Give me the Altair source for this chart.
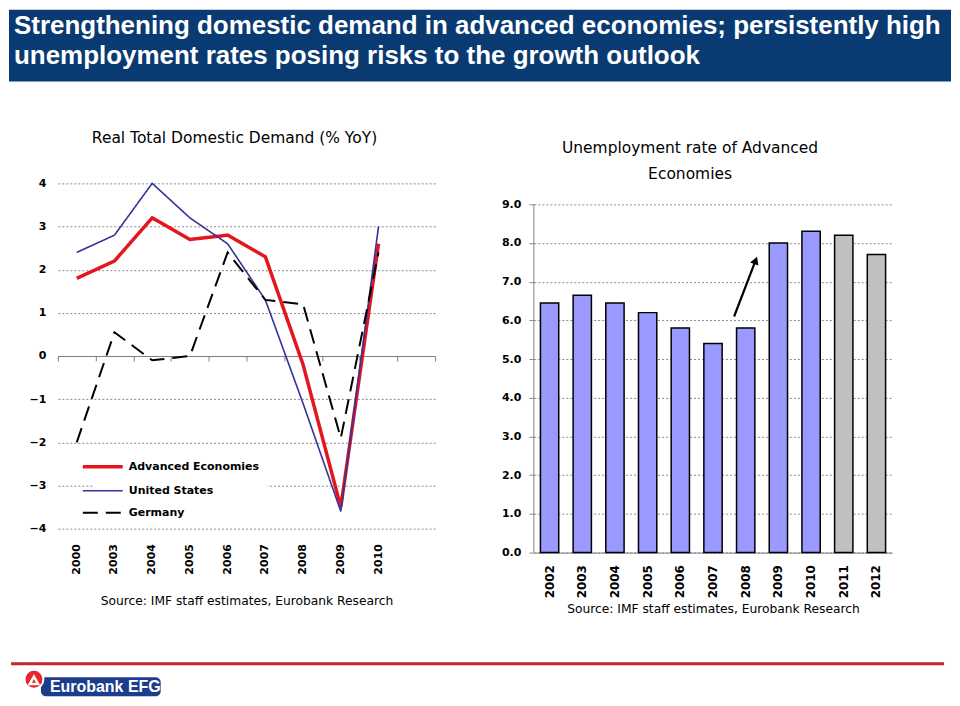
import altair as alt
import pandas as pd

FONT = "DejaVu Sans"
GRID = "#8a8a8a"
AXIS = "#7f7f7f"

# ---------------- text ----------------
banner_lines = [
    "Strengthening domestic demand in advanced economies;  persistently high",
    "unemployment rates posing risks to the growth outlook",
]
source_text = "Source: IMF staff estimates, Eurobank Research"
left_title = "Real Total Domestic Demand (% YoY)"
right_title = ["Unemployment rate of Advanced", "Economies"]
logo_name = ["Eurobank EFG"]

# ---------------- left chart data ----------------
dd_years = ["2000", "2003", "2004", "2005", "2006", "2007", "2008", "2009", "2010"]
dd_domain = dd_years + [""]
dd_series = ["Advanced Economies", "United States", "Germany"]
dd_advanced = [1.8, 2.2, 3.2, 2.7, 2.8, 2.3, -0.2, -3.5, 2.6]
dd_us = [2.4, 2.8, 4.0, 3.2, 2.6, 1.3, -1.1, -3.6, 3.0]
dd_germany = [-2.0, 0.55, -0.1, 0.0, 2.4, 1.3, 1.2, -1.9, 2.4]
dd_ticks = [-4, -3, -2, -1, 0, 1, 2, 3, 4]

# ---------------- right chart data ----------------
un_years = ["2002", "2003", "2004", "2005", "2006", "2007", "2008", "2009", "2010", "2011", "2012"]
un_rates = [6.45, 6.65, 6.45, 6.2, 5.8, 5.4, 5.8, 8.0, 8.3, 8.2, 7.7]
un_status = ["Actual", "Actual", "Actual", "Actual", "Actual", "Actual", "Actual",
             "Actual", "Actual", "Forecast", "Forecast"]
un_ticks = [0.0, 1.0, 2.0, 3.0, 4.0, 5.0, 6.0, 7.0, 8.0, 9.0]
arrow_start = ["2008", 6.1]
arrow_end = ["2009", 7.55]

# ---------------- styles ----------------
dd_colors = ["#e3161d", "#333399", "#000000"]
dd_widths = [3.5, 1.6, 2.0]
dd_dashes = [[1, 0], [1, 0], [15, 8]]
ACTUAL_FILL = "#9999ff"
FORECAST_FILL = "#c0c0c0"
TITLE_SIZE = 15.5
SOURCE_SIZE = 12.3

# ================= LEFT CHART =================
LW, LH = 378, 346
dd = pd.DataFrame({
    "year": dd_years * 3,
    "series": [s for s in dd_series for _ in dd_years],
    "value": dd_advanced + dd_us + dd_germany,
})

x_scale_dd = alt.Scale(type="band", domain=dd_domain, paddingInner=0, paddingOuter=0)
y_scale_dd = alt.Scale(domain=[-4, 4], nice=False)
y_axis_dd = alt.Axis(values=dd_ticks, title=None, domain=False, ticks=False, labelPadding=12,
                     minExtent=49, labelFontSize=11, labelFontWeight="bold", grid=True,
                     gridColor=GRID, gridDash=[2, 2], gridWidth=1)

legend_dd = alt.Legend(title=None, orient="none", legendX=35, legendY=264, direction="vertical",
                       fillColor="white", padding=8, labelFontSize=11, labelFontWeight="bold",
                       labelColor="black", symbolType="M-3,0H1", symbolSize=400, labelOffset=4,
                       rowPadding=6)

zero_layer = alt.Chart(dd).mark_point(opacity=0, size=0).encode(
    x=alt.X("year:N", scale=x_scale_dd,
            axis=alt.Axis(orient="bottom", offset=-LH / 2, labels=False, title=None,
                          domainColor=AXIS, tickColor=AXIS, tickSize=5, tickBand="extent",
                          grid=False)),
    y=alt.Y("value:Q", scale=y_scale_dd, axis=y_axis_dd),
)

lines = alt.Chart(dd).mark_line().encode(
    x=alt.X("year:N", scale=x_scale_dd,
            axis=alt.Axis(orient="bottom", labelAngle=-90, labelPadding=15, domain=False,
                          ticks=False, grid=False, labelFontSize=11, labelFontWeight="bold",
                          title=source_text, titleFontSize=SOURCE_SIZE, titleFontWeight="normal",
                          titlePadding=20)),
    y=alt.Y("value:Q", scale=y_scale_dd, axis=y_axis_dd),
    color=alt.Color("series:N", scale=alt.Scale(domain=dd_series, range=dd_colors), legend=legend_dd),
    strokeDash=alt.StrokeDash("series:N", scale=alt.Scale(domain=dd_series, range=dd_dashes),
                              legend=legend_dd),
    strokeWidth=alt.StrokeWidth("series:N",
                                scale=alt.Scale(type="ordinal", domain=dd_series, range=dd_widths),
                                legend=legend_dd),
)

left = alt.layer(zero_layer, lines).resolve_scale(x="independent").resolve_axis(
    x="independent"
).properties(
    width=LW, height=LH,
    title=alt.TitleParams(left_title, fontSize=TITLE_SIZE, fontWeight="normal", anchor="middle",
                          baseline="bottom", offset=16, frame="group", dx=-12, color="black",
                          font=FONT),
)

# ================= RIGHT CHART =================
RW, RH = 359, 370
UN_TOP = 9.54
un = pd.DataFrame({"year": un_years, "rate": un_rates, "status": un_status})

x_scale_un = alt.Scale(type="band", domain=un_years, paddingInner=0.44, paddingOuter=0.2)
y_scale_un = alt.Scale(domain=[0, UN_TOP], nice=False)
y_axis_un = alt.Axis(values=un_ticks, format=".1f", title=None, domain=False, ticks=True,
                     tickSize=5, tickColor=GRID, labelPadding=8, labelFontSize=11,
                     labelFontWeight="bold", grid=True, gridColor=GRID, gridDash=[2, 2])

bars = alt.Chart(un).mark_bar(stroke="black", strokeWidth=1.5).encode(
    x=alt.X("year:N", scale=x_scale_un,
            axis=alt.Axis(labelAngle=-90, labelPadding=12, domain=True, domainColor=AXIS,
                          ticks=False, grid=False, labelFontSize=12, labelFontWeight="bold",
                          title=source_text, titleFontSize=SOURCE_SIZE, titleFontWeight="normal",
                          titlePadding=5)),
    y=alt.Y("rate:Q", scale=y_scale_un, axis=y_axis_un),
    fill=alt.condition(alt.datum.status == "Forecast", alt.value(FORECAST_FILL),
                       alt.value(ACTUAL_FILL)),
)

yline = alt.Chart(pd.DataFrame({"lo": [un_ticks[0]], "hi": [un_ticks[-1]]})).mark_rule(
    color=AXIS
).encode(x=alt.value(0), y=alt.Y("lo:Q", scale=y_scale_un, axis=y_axis_un), y2="hi:Q")

arrow_df = pd.DataFrame({"x0": [arrow_start[0]], "y0": [arrow_start[1]],
                         "x1": [arrow_end[0]], "y1": [arrow_end[1]]})
shaft = alt.Chart(arrow_df).mark_rule(color="black", strokeWidth=2.2, xOffset=-11.6,
                                      x2Offset=-22.8).encode(
    x=alt.X("x0:N", scale=x_scale_un), x2="x1:N",
    y=alt.Y("y0:Q", scale=y_scale_un), y2="y1:Q",
)
head = alt.Chart(arrow_df).mark_point(shape="triangle-up", filled=True, color="black", opacity=1,
                                      size=80, angle=21, xOffset=-22.8).encode(
    x=alt.X("x1:N", scale=x_scale_un), y=alt.Y("y1:Q", scale=y_scale_un),
)

right = alt.layer(bars, yline, shaft, head).properties(
    width=RW, height=RH,
    title=alt.TitleParams(right_title, fontSize=TITLE_SIZE, fontWeight="normal", anchor="middle",
                          baseline="bottom", lineHeight=26, offset=-14, frame="group", dx=-23,
                          color="black", font=FONT),
)

middle = alt.hconcat(left, right, spacing=65).resolve_scale(
    color="independent", strokeDash="independent", strokeWidth="independent"
).resolve_legend(color="independent", strokeDash="independent", strokeWidth="independent")

# ================= BANNER =================
# the banner extends left over the width of the left chart's y axis (49 px)
banner_df = pd.DataFrame({"text": ["\n".join(banner_lines)]})
banner_bg = alt.Chart(banner_df).mark_rect(color="#0a3a72").encode(
    x=alt.value(-49), x2=alt.value(895), y=alt.value(0), y2=alt.value(72)
)
banner_txt = alt.Chart(banner_df).mark_text(
    align="left", baseline="top", lineBreak="\n", lineHeight=30, color="white",
    font="Liberation Sans", fontSize=26, fontWeight="bold",
).encode(x=alt.value(-44), y=alt.value(3), text="text:N")
banner = alt.layer(banner_bg, banner_txt).properties(width=895, height=72)

# ================= FOOTER =================
logo_df = pd.DataFrame({"name": logo_name})
red_rule = alt.Chart(logo_df).mark_rule(color="#c9252c", strokeWidth=3).encode(
    x=alt.value(-47), x2=alt.value(888), y=alt.value(1.5)
)
logo_box = alt.Chart(logo_df).mark_rect(color="#1c3d8c", cornerRadius=5).encode(
    x=alt.value(-17), x2=alt.value(103), y=alt.value(15), y2=alt.value(34)
)
logo_circle = alt.Chart(logo_df).mark_circle(color="#e3282e", opacity=1, size=360,
                                             stroke="white", strokeWidth=2).encode(
    x=alt.value(-24), y=alt.value(17)
)
logo_sym = alt.Chart(logo_df).mark_point(shape="triangle-up", color="white", size=70,
                                         strokeWidth=2.5, opacity=1).encode(
    x=alt.value(-24), y=alt.value(18)
)
logo_text = alt.Chart(logo_df).mark_text(align="left", baseline="middle", color="white",
                                         font="Liberation Sans", fontSize=16,
                                         fontWeight="bold").encode(
    x=alt.value(-8), y=alt.value(25), text="name:N"
)
footer = alt.layer(red_rule, logo_box, logo_circle, logo_sym, logo_text).properties(
    width=888, height=34
)

top = alt.vconcat(banner, middle, spacing=48)

chart = alt.vconcat(top, footer, spacing=45).properties(
    padding={"left": 0, "top": 0, "right": 0, "bottom": 0}
).configure(font=FONT).configure_view(stroke="transparent").configure_axis(
    labelFont=FONT, titleFont=FONT, labelColor="black", titleColor="black"
).configure_legend(labelFont=FONT)

chart.save("out.html", embed_options={"renderer": "svg", "actions": False})
